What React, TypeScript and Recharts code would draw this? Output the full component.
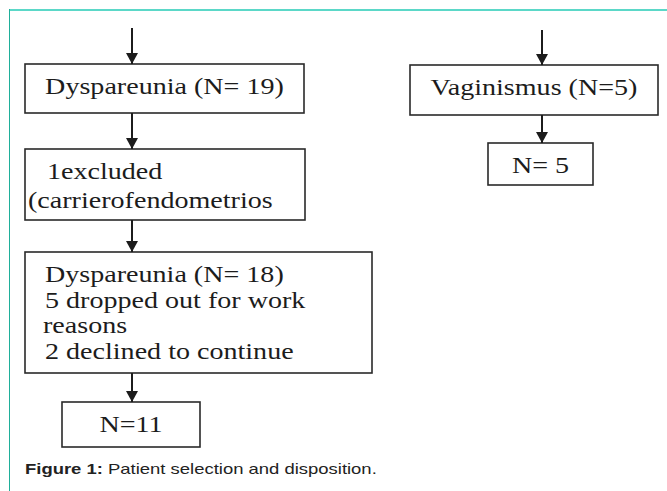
import { ReferenceArea, Scatter, ScatterChart, XAxis, YAxis } from "recharts";

// flowchart boxes; positions are in the figure's own units (0..667 across, 0..491 down)
const nodeLines = [
  ["Dyspareunia (N= 19)"],
  ["1excluded", "(carrierofendometrios"],
  ["Dyspareunia (N= 18)", "5 dropped out for work", "reasons", "2 declined to continue"],
  ["N=11"],
  ["Vaginismus (N=5)"],
  ["N= 5"]
];
const nodeLeft = [25, 25, 25, 62, 410, 488];
const nodeRight = [304, 305, 372, 200, 658, 593];
const nodeTop = [64, 149, 252, 402, 65, 143];
const nodeBottom = [113, 220, 373, 447, 115, 185];

// vertical arrows: x, start y, tip y
const arrowX = [132, 132, 132, 132, 542, 542];
const arrowFrom = [28, 113, 220, 373, 30, 115];
const arrowTo = [64, 149, 252, 402, 65, 143];

const caption = { bold: "Figure 1:", rest: " Patient selection and disposition." };

const W = 667;
const H = 491;
const ink = "#1c1c1c";

// how text sits in each box
const textLayout = [
  { align: "middle", indents: [0], lineHeight: 0 },
  { align: "start", indents: [22, 3], lineHeight: 29 },
  { align: "start", indents: [20, 20, 18, 20], lineHeight: 25.5 },
  { align: "middle", indents: [0], lineHeight: 0 },
  { align: "middle", indents: [0], lineHeight: 0 },
  { align: "middle", indents: [0], lineHeight: 0 }
];

const arrows = arrowX.map((x, i) => [
  { x, y: arrowFrom[i], head: false },
  { x, y: arrowTo[i], head: true }
]);

function ArrowHead(props: any) {
  const { cx, cy, payload } = props;
  if (!payload?.head) return <g />;
  return <path d={`M${cx - 6},${cy - 11} L${cx + 6},${cy - 11} L${cx},${cy} Z`} fill={ink} />;
}

function BoxShape(props: any) {
  const { x, y, width, height } = props;
  return <rect x={x} y={y} width={width} height={height} fill="#fff" stroke="#2a2a2a" strokeWidth={1.6} />;
}

// chart spans the whole canvas with a 0..W / 0..H domain, so unit -> px is 1:1
function BoxTexts() {
  return (
    <svg width={W} height={H} style={{ position: "absolute", left: 0, top: 0, pointerEvents: "none" }}>
      {nodeLines.map((lines, i) => {
        const layout = textLayout[i];
        const w = nodeRight[i] - nodeLeft[i];
        return lines.map((line, li) => {
          const tx = layout.align === "middle" ? nodeLeft[i] + w / 2 : nodeLeft[i] + layout.indents[li];
          const ty = nodeTop[i] + 30 + li * layout.lineHeight;
          return (
            <text
              key={`${i}-${li}`}
              transform={`translate(${tx},${ty}) scale(1.17,1)`}
              textAnchor={layout.align}
              fontFamily="Liberation Serif"
              fontSize={24}
              fill={ink}
            >
              {line}
            </text>
          );
        });
      })}
    </svg>
  );
}

export default function App() {
  return (
    <div style={{ position: "absolute", left: 0, top: 0, width: W, height: H, background: "#fff" }}>
      <div style={{ position: "absolute", left: 9, top: 9, width: 658, height: 2, background: "#5bd8c8" }} />
      <div style={{ position: "absolute", left: 9, top: 9, width: 1, height: 482, background: "#1faf9a" }} />
      <div style={{ position: "absolute", left: 0, top: 0 }}>
        <ScatterChart width={W} height={H} margin={{ top: 0, right: 0, bottom: 0, left: 0 }}>
          <XAxis dataKey="x" type="number" domain={[0, W]} hide />
          <YAxis dataKey="y" type="number" domain={[0, H]} reversed hide />
          {nodeLines.map((_, i) => (
            <ReferenceArea
              key={i}
              x1={nodeLeft[i]}
              x2={nodeRight[i]}
              y1={nodeTop[i]}
              y2={nodeBottom[i]}
              shape={BoxShape}
            />
          ))}
          {arrows.map((data, i) => (
            <Scatter
              key={i}
              data={data}
              isAnimationActive={false}
              line={{ stroke: ink, strokeWidth: 2 }}
              stroke={ink}
              shape={ArrowHead}
            />
          ))}
        </ScatterChart>
      </div>
      <BoxTexts />
      <div
        style={{
          position: "absolute",
          left: 25,
          top: 461,
          fontFamily: '"Liberation Sans", Arial, sans-serif',
          fontSize: 15,
          lineHeight: "15px",
          color: "#222",
          whiteSpace: "nowrap",
          transform: "scaleX(1.23)",
          transformOrigin: "left top"
        }}
      >
        <b>{caption.bold}</b>
        {caption.rest}
      </div>
    </div>
  );
}
